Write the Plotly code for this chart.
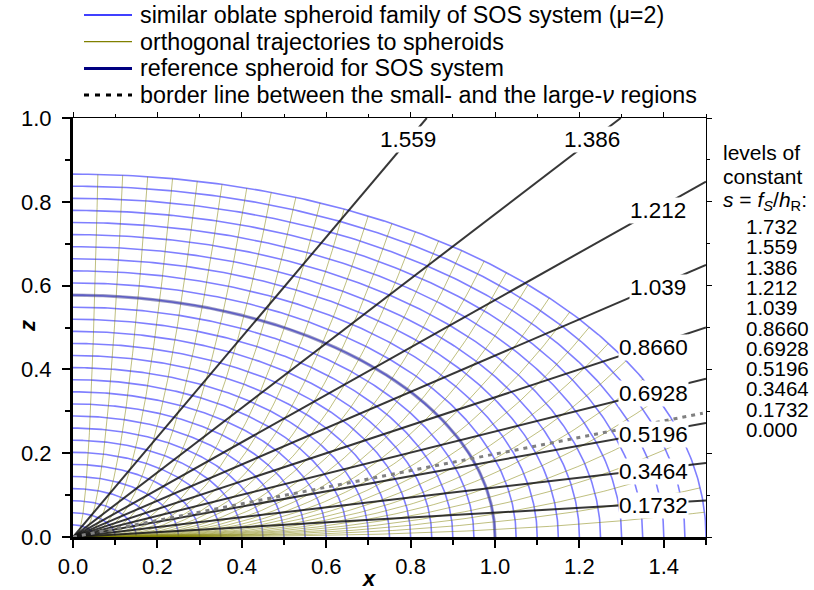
import numpy as np
import plotly.graph_objects as go

# ---------------- data ----------------
spheroid_semi_axes = [0.05, 0.10, 0.15, 0.20, 0.25, 0.30, 0.35, 0.40, 0.45, 0.50,
                      0.55, 0.60, 0.65, 0.70, 0.75, 0.80, 0.85, 0.90, 0.95, 1.00,
                      1.05, 1.10, 1.15, 1.20, 1.25, 1.30, 1.35, 1.40, 1.45, 1.50]
axis_ratio = 0.57735            # z/x semi-axis ratio of the spheroids
reference_semi_axis = 1.0
trajectory_count = 31           # orthogonal trajectories between the axes
s_levels = [1.732, 1.559, 1.386, 1.212, 1.039, 0.8660, 0.6928, 0.5196, 0.3464, 0.1732, 0.000]
s_labels = ["1.732", "1.559", "1.386", "1.212", "1.039", "0.8660", "0.6928",
            "0.5196", "0.3464", "0.1732", "0.000"]
s_max = 1.732
border_slope = 0.198
x_ticks = [0.0, 0.2, 0.4, 0.6, 0.8, 1.0, 1.2, 1.4]
y_ticks = [0.0, 0.2, 0.4, 0.6, 0.8, 1.0]
legend_names = ["similar oblate spheroid family of SOS system (\u03bc=2)",
                "orthogonal trajectories to spheroids",
                "reference spheroid for SOS system",
                "border line between the small- and the large-<i>\u03bd</i> regions"]

FONT = "Liberation Sans, Arial, sans-serif"
X_MAX, Z_MAX = 1.5, 1.0

fig = go.Figure()

# ---- spheroid family ----
psi = np.linspace(0, np.pi / 2, 200)
ex, ez = [], []
for a in spheroid_semi_axes:
    ex += list(a * np.cos(psi)) + [None]
    ez += list(a * axis_ratio * np.sin(psi)) + [None]
fig.add_trace(go.Scatter(x=ex, y=ez, mode="lines", showlegend=False, hoverinfo="skip",
                         line=dict(color="rgba(0,0,255,0.5)", width=1.6)))

# ---- orthogonal trajectories z = C x^3, equally spaced along the outer spheroid ----
a_out = spheroid_semi_axes[-1]
pp = np.linspace(0, np.pi / 2, 4000)
px_ = a_out * np.cos(pp)
pz_ = a_out * axis_ratio * np.sin(pp)
arc = np.concatenate([[0], np.cumsum(np.hypot(np.diff(px_), np.diff(pz_)))])
targets = np.linspace(0, arc[-1], trajectory_count + 2)[1:-1]
u = np.linspace(0, 1, 160)
tx, tz = [], []
for t in targets:
    i = np.searchsorted(arc, t)
    xe, ze = px_[i], pz_[i]
    tx += list(xe * u) + [None]
    tz += list(ze * u ** 3) + [None]
fig.add_trace(go.Scatter(x=tx, y=tz, mode="lines", showlegend=False, hoverinfo="skip",
                         line=dict(color="rgba(128,128,0,0.5)", width=1)))

# ---- reference spheroid ----
fig.add_trace(go.Scatter(x=reference_semi_axis * np.cos(psi),
                         y=reference_semi_axis * axis_ratio * np.sin(psi),
                         mode="lines", showlegend=False, hoverinfo="skip",
                         line=dict(color="rgba(60,60,140,0.5)", width=3.2)))

# ---- lines of constant s ----
lx, lz = [], []
label_pos = []
for s, lab in zip(s_levels, s_labels):
    if s <= 0 or s >= s_max:
        continue
    slope = axis_ratio * np.tan(np.arcsin(s / s_max))
    xe = min(X_MAX, Z_MAX / slope)
    lx += [0, xe, None]
    lz += [0, xe * slope, None]
    if xe * slope < 0.9:
        xl = 1.386 if s > 1.0 else 1.375
        zl = xl * slope - 0.005
    else:
        zl = 0.948
        xl = zl / slope
    label_pos.append((xl, zl, lab))
fig.add_trace(go.Scatter(x=lx, y=lz, mode="lines", showlegend=False, hoverinfo="skip",
                         line=dict(color="rgba(20,20,20,0.85)", width=2)))

# ---- border line ----
fig.add_trace(go.Scatter(x=[0, X_MAX * 0.995], y=[0, X_MAX * 0.995 * border_slope],
                         mode="lines", showlegend=False, hoverinfo="skip",
                         line=dict(color="rgba(128,128,128,1)", width=3, dash="4px,5px")))

# dummy trace for top/right axes
fig.add_trace(go.Scatter(x=[None], y=[None], xaxis="x2", yaxis="y2", showlegend=False,
                         hoverinfo="skip"))

W, H = 814, 590
L, R, T, B = 73, 108, 118, 53
pw, ph = W - L - R, H - T - B


def paper_x(px):
    return (px - L) / pw


def paper_y(py):
    return (H - B - py) / ph


annotations = []
for xl, zl, lab in label_pos:
    annotations.append(dict(x=xl, y=zl, xref="x", yref="y", text=lab, showarrow=False,
                            xanchor="center", yanchor="middle", bgcolor="white",
                            borderpad=0, font=dict(size=22.5, family=FONT, color="black")))

annotations.append(dict(x=paper_x(369), y=paper_y(578), xref="paper", yref="paper",
                        text="<b><i>x</i></b>", showarrow=False,
                        xanchor="center", yanchor="middle",
                        font=dict(size=22, family=FONT, color="black")))
annotations.append(dict(x=paper_x(27), y=paper_y(326), xref="paper", yref="paper",
                        text="<b><i>z</i></b>", showarrow=False, textangle=-90,
                        xanchor="center", yanchor="middle",
                        font=dict(size=22, family=FONT, color="black")))

header = ["levels of", "constant",
          "<i>s</i> = <i>f</i><sub><i>S</i></sub>/<i>h</i><sub>R</sub>:"]
for i, txt in enumerate(header):
    annotations.append(dict(x=paper_x(721), y=paper_y(152 + 24.5 * i), xref="paper", yref="paper",
                            text=txt, showarrow=False, xanchor="left", yanchor="middle",
                            font=dict(size=21, family=FONT, color="black")))
for i, lab in enumerate(s_labels):
    annotations.append(dict(x=paper_x(744), y=paper_y(226 + 20.3 * i), xref="paper",
                            yref="paper", text=lab, showarrow=False, xanchor="left",
                            yanchor="middle", height=20,
                            font=dict(size=20.5, family=FONT, color="black")))

# ---- legend (drawn manually for exact spacing) ----
legend_styles = [dict(color="blue", width=1.6),
                 dict(color="olive", width=1.2),
                 dict(color="navy", width=3),
                 dict(color="black", width=3, dash="5px,6px")]
shapes = []
for i, (name, st) in enumerate(zip(legend_names, legend_styles)):
    yy = paper_y(15 + 26.7 * i)
    shapes.append(dict(type="line", xref="paper", yref="paper",
                       x0=paper_x(84), x1=paper_x(132), y0=yy, y1=yy, line=st))
    annotations.append(dict(x=paper_x(138), y=yy, xref="paper", yref="paper", text=name,
                            showarrow=False, xanchor="left", yanchor="middle",
                            font=dict(size=23.3, family=FONT, color="black")))

axis_common = dict(showgrid=False, zeroline=False, ticks="outside", linecolor="black",
                   tickcolor="black", showline=True)

fig.update_layout(
    width=W, height=H,
    margin=dict(l=L, r=R, t=T, b=B, autoexpand=False),
    paper_bgcolor="white", plot_bgcolor="white",
    font=dict(family=FONT, color="black"),
    xaxis=dict(range=[0, X_MAX], tickvals=x_ticks, ticktext=[f"{v:.1f}" for v in x_ticks],
               ticklen=8, tickwidth=2, linewidth=3, ticklabelstandoff=0,
               minor=dict(dtick=0.1, ticklen=5, tickwidth=2, ticks="outside", tickcolor="black"),
               tickfont=dict(size=22), **axis_common),
    yaxis=dict(range=[0, Z_MAX], tickvals=y_ticks, ticktext=[f"{v:.1f}" for v in y_ticks],
               ticklen=8, tickwidth=2, linewidth=3, ticklabelstandoff=6,
               minor=dict(dtick=0.1, ticklen=5, tickwidth=2, ticks="outside", tickcolor="black"),
               tickfont=dict(size=22), **axis_common),
    xaxis2=dict(range=[0, X_MAX], overlaying="x", side="top", anchor="y",
                tickvals=x_ticks, showticklabels=False, ticklen=5, tickwidth=1, linewidth=1,
                minor=dict(dtick=0.1, ticklen=3, tickwidth=1, ticks="outside", tickcolor="black"),
                **axis_common),
    yaxis2=dict(range=[0, Z_MAX], overlaying="y", side="right", anchor="x",
                tickvals=y_ticks, showticklabels=False, ticklen=5, tickwidth=1, linewidth=1,
                minor=dict(dtick=0.1, ticklen=3, tickwidth=1, ticks="outside", tickcolor="black"),
                **axis_common),
    annotations=annotations,
    shapes=shapes,
    showlegend=False,
)

fig.write_html("out.html", config={"displayModeBar": False},
               post_script="document.body.style.margin='0px';document.body.style.padding='0px';")
